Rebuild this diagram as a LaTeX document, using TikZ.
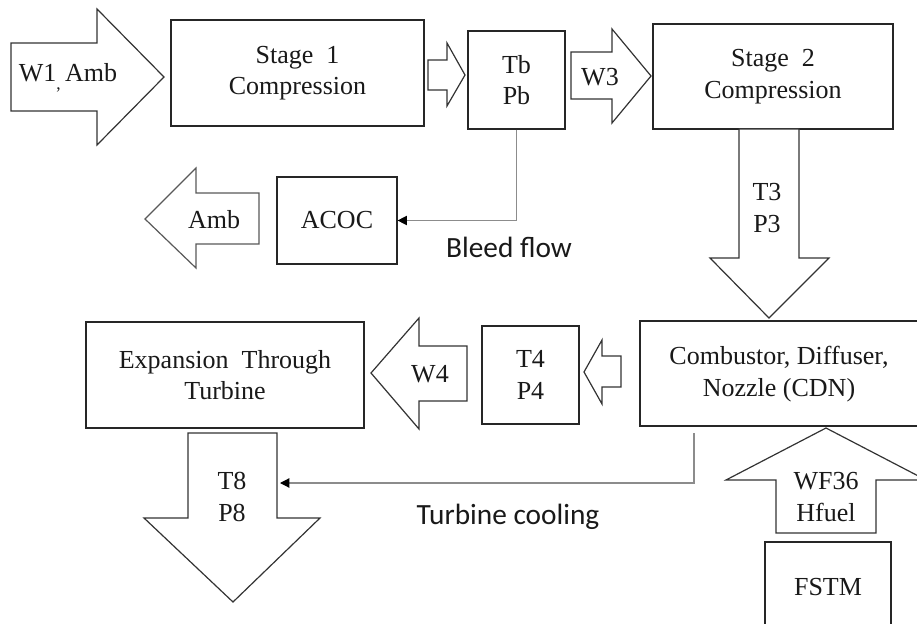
\documentclass[tikz,border=0pt]{standalone}
\usepackage{fontspec}
\setmainfont{Liberation Serif}
\newfontfamily\labfont{Carlito}
\usetikzlibrary{fit,arrows.meta}
\begin{document}
\begin{tikzpicture}[x=0.75pt,y=-0.75pt,
  box/.style={draw=black!85,line width=0.9pt,inner sep=0pt,fill=white},
  flow/.style={draw=black!80,line width=0.9pt,fill=white,line join=miter},
  txt/.style={font=\fontsize{19.5}{23.5}\selectfont,align=center,inner sep=0pt,text=black!90},
  lab/.style={font=\labfont\fontsize{22}{26}\selectfont,inner sep=0pt,text=black!90},
  conn/.style={draw=black!45,line width=0.9pt,-{Triangle[length=7pt,width=7pt,fill=black,color=black]}}
]
\useasboundingbox (0,0) rectangle (917,624);
\clip (0,0) rectangle (917,624);

% W1 inlet arrow
\draw[flow] (11,43) -- (97,43) -- (97,9) -- (164,77) -- (97,145) -- (97,111) -- (11,111) -- cycle;
\node[txt] (w1) at (68,78) {W1\raisebox{-0.3em}{\fontsize{13}{13}\selectfont ,}\,Amb};

% Stage 1
\node[box,fit={(171,20)(424,126)}] (s1) {};
\node[txt] (s1t) at (s1.center) {Stage\ \ 1\\Compression};

% small arrow to Tb
\draw[flow] (428,60) -- (447,60) -- (447,43) -- (465,75) -- (447,106) -- (447,90) -- (428,90) -- cycle;

% Tb Pb
\node[box,fit={(468,31)(565,129)}] (tb) {};
\node[txt] (tbt) at (tb.center) {Tb\\Pb};

% W3 arrow
\draw[flow] (571,52) -- (612,52) -- (612,29) -- (651,76) -- (612,123) -- (612,99) -- (571,99) -- cycle;
\node[txt] (w3) at (600,77) {W3};

% Stage 2
\node[box,fit={(653,24)(893,129)}] (s2) {};
\node[txt] (s2t) at (s2.center) {Stage\ \ 2\\Compression};

% T3 P3 arrow
\draw[flow] (739,129) -- (799,129) -- (799,258) -- (829,258) -- (769,318) -- (710,258) -- (739,258) -- cycle;
\node[txt] (t3) at (767,208) {T3\\P3};

% Amb outlet arrow
\draw[flow,draw=black!65] (259,193) -- (196,193) -- (196,168) -- (145,219) -- (196,268) -- (196,244) -- (259,244) -- cycle;
\node[txt] (amb) at (214,220) {Amb};

% ACOC
\node[box,fit={(277,177)(397,264)}] (acoc) {};
\node[txt] (acoct) at (acoc.center) {ACOC};

% Bleed flow
\draw[conn] (tb.south) |- (acoc.east);
\node[lab] (bleed) at (509,247) {Bleed flow};

% CDN
\node[box,fit={(640,321)(930,426)}] (cdn) {};
\node[txt] (cdnt) at (779,374) {Combustor, Diffuser,\\Nozzle (CDN)};

% small arrow to T4
\draw[flow] (621,356) -- (602,356) -- (602,340) -- (584,372) -- (602,404) -- (602,387) -- (621,387) -- cycle;

% T4 P4
\node[box,fit={(482,326)(579,424)}] (t4) {};
\node[txt] (t4t) at (t4.center) {T4\\P4};

% W4 arrow
\draw[flow] (467,346) -- (419,346) -- (419,318) -- (371,373) -- (419,429) -- (419,401) -- (467,401) -- cycle;
\node[txt] (w4) at (430,374) {W4};

% Expansion
\node[box,fit={(86,322)(364,428)}] (exp) {};
\node[txt] (expt) at (exp.center) {Expansion\ \ Through\\Turbine};

% T8 P8 arrow
\draw[flow] (188,433) -- (277,433) -- (277,518) -- (320,518) -- (233,602) -- (144,518) -- (188,518) -- cycle;
\node[txt] (t8) at (232,497) {T8\\P8};

% Turbine cooling
\coordinate (tcs) at (694,433);
\coordinate (tce) at (280,483);
\draw[conn] (tcs) |- (tce);
\node[lab] (tcool) at (508,517) {Turbine cooling};

% WF36 arrow
\draw[flow] (776,533) -- (876,533) -- (876,480) -- (926,480) -- (826,428) -- (726,480) -- (776,480) -- cycle;
\node[txt] (wf) at (826,497) {WF36\\Hfuel};

% FSTM
\node[box,fit={(765,542)(891,640)}] (fstm) {};
\node[txt] (fstmt) at (828,587) {FSTM};
\end{tikzpicture}
\end{document}
